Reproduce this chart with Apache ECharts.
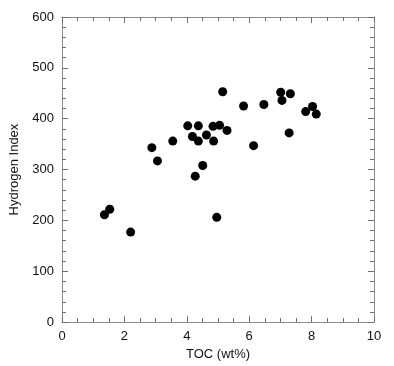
<!DOCTYPE HTML>
<html>
<head>
    <meta charset="UTF-8">
    <title>scatter</title>
    <script src="https://cdn.jsdelivr.net/npm/echarts@6/dist/echarts.min.js"></script>
</head>
<style type="text/css">
    body {
        margin: 0;
        padding: 0;
        background: #fff;
    }
</style>
<body>
<div id="main" style="height: 366px;width: 394px;"></div>
</body>
<script type="text/javascript">
    const toc = [1.36, 1.53, 2.20, 2.88, 3.06, 3.55, 4.03, 4.18, 4.37, 4.37, 4.63, 4.27, 4.51, 4.84, 5.05,
        4.86, 5.29, 4.96, 5.15, 5.82, 6.47, 6.14, 7.01, 7.05, 7.32, 7.28, 7.81, 8.03, 8.15];
    const hi = [211, 222, 177, 343, 317, 356, 386, 365, 386, 356, 368, 287, 308, 385, 387,
        356, 377, 206, 453, 425, 428, 347, 452, 436, 449, 372, 414, 424, 409];
    const xTicks = [0, 2, 4, 6, 8, 10];
    const yTicks = [0, 100, 200, 300, 400, 500, 600];

    const chartDom = document.getElementById('main');
    const myChart = echarts.init(chartDom, null, {renderer: 'canvas'});
    const font = 'Liberation Sans';
    const grey = '#6e6e6e';

    // one frame side: axis line plus inward ticks, labels only bottom/left
    function axis(pos, min, max, interval, minorSplit) {
        return {
            type: 'value', position: pos, min: min, max: max, interval: interval,
            axisLine: {show: true, onZero: false, lineStyle: {color: '#8c8c8c'}},
            axisTick: {show: true, inside: true, length: 6, lineStyle: {color: grey, width: 1}},
            minorTick: {show: true, splitNumber: minorSplit, length: 4, lineStyle: {color: grey, width: 1}},
            splitLine: {show: false},
            axisLabel: {show: pos === 'bottom' || pos === 'left', fontFamily: font, fontSize: 13, color: '#111', margin: 8}
        };
    }
    const xMain = axis('bottom', xTicks[0], xTicks[xTicks.length - 1], 2, 4);
    Object.assign(xMain, {name: 'TOC (wt%)', nameLocation: 'middle', nameGap: 25,
        nameTextStyle: {fontFamily: font, fontSize: 13, color: '#111'}});
    const yMain = axis('left', yTicks[0], yTicks[yTicks.length - 1], 100, 5);
    Object.assign(yMain, {name: 'Hydrogen Index', nameLocation: 'middle', nameGap: 40,
        nameTextStyle: {fontFamily: font, fontSize: 13, color: '#111'}});

    const option = {
        animation: false,
        grid: {left: 62, right: 20, top: 17, bottom: 39},
        xAxis: [xMain, axis('top', 0, 10, 2, 4)],
        yAxis: [yMain, axis('right', 0, 600, 100, 5)],
        series: [
            {
                type: 'scatter',
                symbol: 'circle',
                symbolSize: 9,
                itemStyle: {color: '#000', opacity: 1},
                data: toc.map((v, i) => [v, hi[i]])
            }
        ]
    };
    myChart.setOption(option);
</script>
</html>
